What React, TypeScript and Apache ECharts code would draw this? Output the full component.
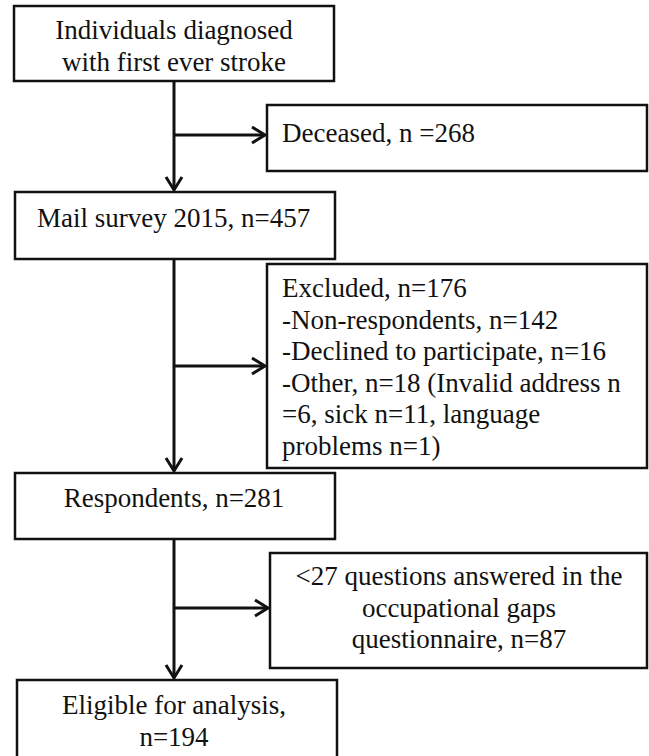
import React, { useEffect, useRef } from "react";
import * as echarts from "echarts";

// Flowchart content
const stepLabels: string[][] = [
  ["Individuals diagnosed", "with first ever stroke"],
  ["Mail survey 2015, n=457"],
  ["Respondents, n=281"],
  ["Eligible for analysis,", "n=194"],
];
const sideLabels: string[][] = [
  ["Deceased, n =268"],
  [
    "Excluded, n=176",
    "-Non-respondents, n=142",
    "-Declined to participate, n=16",
    "-Other, n=18 (Invalid address n",
    "=6, sick n=11, language",
    "problems n=1)",
  ],
  ["<27 questions answered in the", "occupational gaps", "questionnaire, n=87"],
];

// Layout (pixels)
const stepBoxes = [
  { x: 14, y: 6, w: 320, h: 75, align: "center", tx: 174, ty: 30 },
  { x: 15, y: 192, w: 320, h: 67, align: "left", tx: 37, ty: 218 },
  { x: 15, y: 473, w: 320, h: 66, align: "center", tx: 174, ty: 498 },
  { x: 17, y: 680, w: 320, h: 80, align: "center", tx: 174, ty: 705 },
];
const sideBoxes = [
  { x: 267, y: 105, w: 380, h: 66, align: "left", tx: 282, ty: 133, ay: 135 },
  { x: 267, y: 264, w: 380, h: 204, align: "left", tx: 282, ty: 288, ay: 366 },
  { x: 270, y: 553, w: 377, h: 115, align: "center", tx: 459, ty: 576, ay: 608 },
];
const LINE_H = 31.6;
const MAIN_X = 174;
const INK = "#111";

export default function App() {
  const ref = useRef<HTMLDivElement>(null);
  useEffect(() => {
    document.body.style.margin = "0";
    const chart = echarts.init(ref.current!, null, { renderer: "svg" });
    const els: any[] = [];
    const box = (b: any) =>
      els.push({
        type: "rect",
        shape: { x: b.x, y: b.y, width: b.w, height: b.h },
        style: { fill: "#fff", stroke: INK, lineWidth: 2.5 },
      });
    const texts = (b: any, lines: string[]) =>
      lines.forEach((t, i) =>
        els.push({
          type: "text",
          x: b.tx,
          y: b.ty + i * LINE_H,
          style: {
            text: t,
            fontFamily: "Liberation Serif",
            fontSize: 27,
            fill: INK,
            align: b.align,
            verticalAlign: "middle",
          },
        })
      );
    const lineStyle = { stroke: INK, lineWidth: 3, fill: "none" };
    for (let i = 0; i < stepBoxes.length - 1; i++) {
      const a = stepBoxes[i];
      const b = stepBoxes[i + 1];
      const y1 = a.y + a.h;
      const y2 = b.y - 2;
      els.push({ type: "line", shape: { x1: MAIN_X, y1, x2: MAIN_X, y2 }, style: lineStyle });
      els.push({
        type: "polyline",
        shape: { points: [[MAIN_X - 8, y2 - 13], [MAIN_X, y2], [MAIN_X + 8, y2 - 13]] },
        style: lineStyle,
      });
    }
    sideBoxes.forEach((s) => {
      const x2 = s.x - 2;
      els.push({ type: "line", shape: { x1: MAIN_X, y1: s.ay, x2, y2: s.ay }, style: lineStyle });
      els.push({
        type: "polyline",
        shape: { points: [[x2 - 13, s.ay - 8], [x2, s.ay], [x2 - 13, s.ay + 8]] },
        style: lineStyle,
      });
    });
    stepBoxes.forEach((b, i) => {
      box(b);
      texts(b, stepLabels[i]);
    });
    sideBoxes.forEach((b, i) => {
      box(b);
      texts(b, sideLabels[i]);
    });
    chart.setOption({ animation: false, backgroundColor: "#fff", graphic: { elements: els } });
    return () => chart.dispose();
  }, []);
  return <div ref={ref} style={{ width: 649, height: 756 }} />;
}
